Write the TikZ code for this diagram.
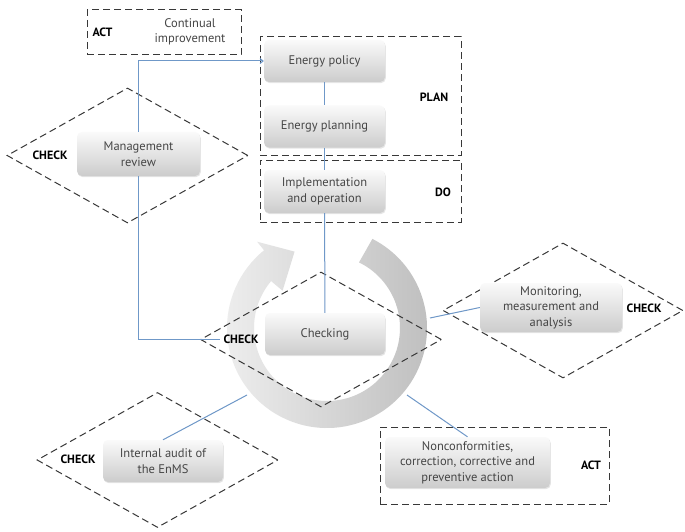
\documentclass[tikz,border=0pt]{standalone}
\usepackage{fontspec}
\setmainfont{PT Sans}
\usetikzlibrary{shapes.geometric,shadows,arrows.meta,calc}
\definecolor{lineblue}{HTML}{6F98C8}
\definecolor{dashgray}{HTML}{383838}
\definecolor{txtgray}{HTML}{464646}
\tikzset{
 box/.style={rounded corners=5pt, top color=gray!4, bottom color=gray!40, draw=none, text=txtgray,
   font=\fontsize{12.5}{15.5}\selectfont, align=center, inner sep=0pt,
   drop shadow={opacity=0.2, shadow xshift=0.8pt, shadow yshift=-1.2pt}},
 dbox/.style={draw=dashgray, dash pattern=on 7pt off 4pt, line width=1pt},
 ddia/.style={diamond, dbox, minimum width=241pt, minimum height=135pt, inner sep=0pt},
 lbl/.style={font=\fontsize{12}{14}\selectfont\bfseries, text=black},
 gtxt/.style={text=txtgray, font=\fontsize{12.5}{15.5}\selectfont, align=center},
 conn/.style={draw=lineblue, line width=1pt},
}
\begin{document}
\begin{tikzpicture}[x=1pt,y=-1pt]
\useasboundingbox[fill=white] (0,0) rectangle (685,532);
% ring arrow
\coordinate (rc) at (327,328);
\shade[left color=gray!14, right color=gray!52]
  ($(rc)+(-63:100)$) arc[start angle=-63, end angle=231, radius=100]
  -- ($(rc)+(231:111)$) -- ($(rc)+(247:83)$) -- ($(rc)+(220:58)$)
  -- ($(rc)+(220:73)$) arc[start angle=220, end angle=-64, radius=73] -- cycle;
% dashed frames
\node[dbox, minimum width=154pt, minimum height=45pt, inner sep=0pt] (actTop) at (164,32.5) {};
\node[dbox, minimum width=201pt, minimum height=118pt, inner sep=0pt] (plan) at (360.5,96) {};
\node[dbox, minimum width=201pt, minimum height=62pt, inner sep=0pt] (do) at (360.5,191) {};
\node[dbox, minimum width=229pt, minimum height=77pt, inner sep=0pt] (actBot) at (494.5,465.5) {};
\node[ddia] (mrd) at (127.5,155.5) {};
\node[ddia] (chd) at (321,339.5) {};
\node[ddia, minimum width=240pt] (mod) at (563,310.5) {};
\node[ddia] (iad) at (157.5,460) {};
% boxes
\node[box, minimum width=121pt, minimum height=42pt] (ep) at (324.5,61) {Energy policy};
\node[box, minimum width=121pt, minimum height=42pt] (epl) at (324.5,126.5) {Energy planning};
\node[box, minimum width=121pt, minimum height=43pt] (io) at (324.5,191.5) {Implementation\\and operation};
\node[box, minimum width=123pt, minimum height=44pt] (mr) at (138.5,154) {Management\\review};
\node[box, minimum width=120pt, minimum height=42pt] (ch) at (325,334) {Checking};
\node[box, minimum width=142pt, minimum height=49pt] (mo) at (551,307.5) {Monitoring,\\measurement and\\analysis};
\node[box, minimum width=120pt, minimum height=42pt] (ia) at (163,461) {Internal audit of\\the EnMS};
\node[box, minimum width=165pt, minimum height=51pt] (nc) at (467.5,462.5) {Nonconformities,\\correction, corrective and\\preventive action};
% labels
\node[lbl, anchor=west] (actT) at (89,32) {ACT};
\node[gtxt] (ci) at (190,32) {Continual\\improvement};
\node[lbl] (planl) at (434,97) {PLAN};
\node[lbl] (dol) at (443,192) {DO};
\node[lbl] (chk1) at (50,155) {CHECK};
\node[lbl] (chk2) at (241,339) {CHECK};
\node[lbl] (chk3) at (644,308) {CHECK};
\node[lbl] (chk4) at (78,459) {CHECK};
\node[lbl] (actB) at (591,465) {ACT};
% connectors
\draw[conn] (ep) -- (epl);
\draw[conn] (epl) -- (io);
\draw[conn] (io) -- (ch);
\draw[conn, -{Straight Barb[length=3pt,width=5pt]}] (mr.north) |- (ep.west);
\draw[conn] (mr.south) |- (chk2.west);
\coordinate (moend) at (430,318);
\draw[conn] (moend) -- (mo.west);
\coordinate (iaend) at (247,395);
\draw[conn] (ia.north) -- (iaend);
\coordinate (ncend) at (407,395);
\draw[conn] (ncend) -- (nc.north);
\end{tikzpicture}
\end{document}
